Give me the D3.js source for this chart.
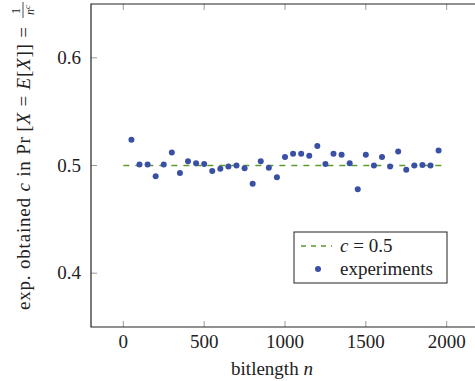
<!DOCTYPE html>
<html>
<head>
<meta charset="utf-8">
<script src="https://cdn.jsdelivr.net/npm/d3@7"></script>
<style>
  body { margin: 0; background: #fff; }
  svg { display: block; font-family: "Liberation Serif", serif; }
</style>
</head>
<body>
<svg id="chart" width="475" height="381"></svg>
<script>
// data
const bitlengths = [50, 100, 150, 200, 250, 300, 350, 400, 450, 500, 550, 600, 650, 700, 750,
  800, 850, 900, 950, 1000, 1050, 1100, 1150, 1200, 1250, 1300, 1350, 1400, 1450, 1500,
  1550, 1600, 1650, 1700, 1750, 1800, 1850, 1900, 1950];
const cValues = [0.524, 0.501, 0.501, 0.490, 0.501, 0.512, 0.493, 0.504, 0.502, 0.5015, 0.495,
  0.497, 0.499, 0.500, 0.4975, 0.483, 0.504, 0.498, 0.489, 0.508, 0.511, 0.511, 0.509, 0.518,
  0.5015, 0.511, 0.510, 0.502, 0.478, 0.510, 0.500, 0.508, 0.499, 0.513, 0.496, 0.500,
  0.5005, 0.500, 0.514];
const refLineN = [0, 2000];
const refC = 0.5;
const xTicks = [0, 500, 1000, 1500, 2000];
const yTicks = [0.4, 0.5, 0.6];

const dotColor = "#3a4fa6";
const lineColor = "#5b9a2b";
const fs = 19;

const svg = d3.select("#chart");
const plotL = 91, plotR = 479, plotT = 4, plotB = 327;

const x = d3.scaleLinear().domain([-200, 2200]).range([plotL, plotR]);
const y = d3.scaleLinear().domain([0.35, 0.65]).range([plotB, plotT]);

// ticks (drawn inside the box, like pgfplots)
svg.append("g").selectAll("line")
  .data(xTicks).enter().append("line")
  .attr("x1", d => x(d)).attr("x2", d => x(d))
  .attr("y1", plotB).attr("y2", plotB - 6)
  .attr("stroke", "#999").attr("stroke-width", 1);
svg.append("g").selectAll("line")
  .data(xTicks).enter().append("line")
  .attr("x1", d => x(d)).attr("x2", d => x(d))
  .attr("y1", plotT).attr("y2", plotT + 6)
  .attr("stroke", "#999").attr("stroke-width", 1);
svg.append("g").selectAll("line")
  .data(yTicks).enter().append("line")
  .attr("x1", plotL).attr("x2", plotL + 6)
  .attr("y1", d => y(d)).attr("y2", d => y(d))
  .attr("stroke", "#999").attr("stroke-width", 1);

// frame
svg.append("path")
  .attr("d", `M${plotR},${plotT}H${plotL}V${plotB}H${plotR}`)
  .attr("fill", "none").attr("stroke", "#222").attr("stroke-width", 1.2);

// tick labels
svg.append("g").selectAll("text")
  .data(xTicks).enter().append("text")
  .attr("x", d => x(d)).attr("y", plotB + 21)
  .attr("text-anchor", "middle")
  .attr("font-size", fs).attr("fill", "#222")
  .text(d => d);
svg.append("g").selectAll("text")
  .data(yTicks).enter().append("text")
  .attr("x", plotL - 10).attr("y", d => y(d) + 6)
  .attr("text-anchor", "end")
  .attr("font-size", fs).attr("fill", "#222")
  .text(d => d3.format(".1f")(d));

// reference line c = 0.5
const line = d3.line().x(d => x(d)).y(() => y(refC));
svg.append("path")
  .datum(refLineN)
  .attr("d", line)
  .attr("fill", "none")
  .attr("stroke", lineColor).attr("stroke-width", 1.6)
  .attr("stroke-dasharray", "6,6");

// experiments
svg.append("g").selectAll("circle")
  .data(bitlengths).enter().append("circle")
  .attr("cx", d => x(d))
  .attr("cy", (d, i) => y(cValues[i]))
  .attr("r", 3)
  .attr("fill", dotColor);

// x label
const xl = svg.append("text")
  .attr("x", 272).attr("y", 375)
  .attr("text-anchor", "middle")
  .attr("font-size", fs).attr("fill", "#222");
xl.append("tspan").text("bitlength ");
xl.append("tspan").attr("font-style", "italic").text("n");

// y label, rotated, with a small fraction at the end
const yg = svg.append("g").attr("transform", "translate(30,310) rotate(-90)");
const yl = yg.append("text").attr("x", 0).attr("y", 0)
  .attr("font-size", fs).attr("fill", "#222")
  .attr("textLength", 283).attr("lengthAdjust", "spacing");
const parts = [
  ["exp. obtained ", null], ["c", "italic"], [" in Pr\u2009[", null], ["X", "italic"],
  [" = ", null], ["E", "italic"], ["[", null], ["X", "italic"], ["]] = ", null]
];
parts.forEach(p => {
  const t = yl.append("tspan").text(p[0]);
  if (p[1]) t.attr("font-style", "italic");
});
const fx = 300;
yg.append("text").attr("x", fx - 1).attr("y", -10)
  .attr("text-anchor", "middle").attr("font-size", 12).attr("fill", "#222").text("1");
yg.append("line").attr("x1", fx - 8).attr("x2", fx + 8).attr("y1", -7).attr("y2", -7)
  .attr("stroke", "#222").attr("stroke-width", 0.8);
const den = yg.append("text").attr("x", fx).attr("y", 4)
  .attr("text-anchor", "middle").attr("font-size", 12).attr("fill", "#222");
den.append("tspan").attr("font-style", "italic").text("n");
den.append("tspan").attr("font-style", "italic").attr("font-size", 9).attr("dy", -4).text("c");

// legend
const lg = svg.append("g");
lg.append("rect")
  .attr("x", 294).attr("y", 232).attr("width", 153).attr("height", 51)
  .attr("fill", "#fff").attr("stroke", "#222").attr("stroke-width", 1);
lg.append("line")
  .attr("x1", 301).attr("x2", 332).attr("y1", 246).attr("y2", 246)
  .attr("stroke", lineColor).attr("stroke-width", 1.6).attr("stroke-dasharray", "5,5");
const lt = lg.append("text").attr("x", 340).attr("y", 252)
  .attr("font-size", fs).attr("fill", "#222");
lt.append("tspan").attr("font-style", "italic").text("c");
lt.append("tspan").text(" = 0.5");
lg.append("circle").attr("cx", 318).attr("cy", 269).attr("r", 3).attr("fill", dotColor);
lg.append("text").attr("x", 340).attr("y", 275)
  .attr("font-size", fs).attr("fill", "#222").text("experiments");
</script>
</body>
</html>
